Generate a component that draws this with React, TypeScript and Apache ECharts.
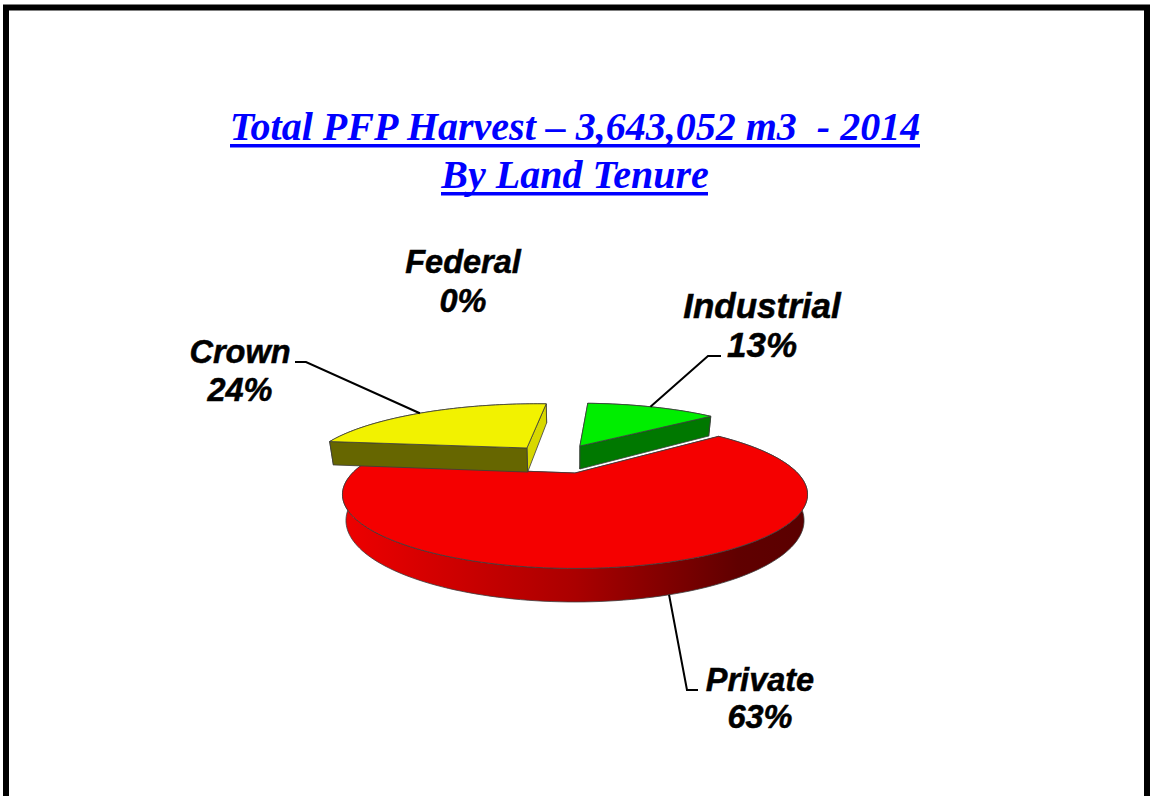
import React, { useEffect, useRef } from "react";
import * as echarts from "echarts";

const titleLines = ["Total PFP Harvest – 3,643,052 m3  - 2014", "By Land Tenure"];
const categories = ["Industrial", "Private", "Crown", "Federal"];
const shares = [13, 63, 24, 0];

// Label placement and leader elbows, in the same order as the categories.
const labelCentres = [[762, 325], [760, 698.5], [240, 371], [463, 281]];
const labelSizes = [35, 32.5, 32.5, 32.5];
const labelLineHeights = [39, 37, 38.5, 39];
const leaderElbows = [[[708, 356], [721, 356]], [[687, 690], [698, 690]], [[306, 362], [295, 362]], null];
const leaderShifts = [-0.5, -1.5, -2, 0];

// Exploded offset (in the pie's own plane), radius and depth of each slice.
const sliceOffsets = [[0.025, -0.451], [0, 0], [-0.242, -0.414], [0, 0]];
const sliceRadii = [1.02, 1, 1.04, 1];
const sliceDepths = [26, 23.8, 27, 0];

const topFills = ["#00EE00", "#F50000", "#F2F200", "#888888"];
const frontFills = ["#007800", "#AA0000", "#666600", "#444444"];
const backFills = ["#00A000", "#800000", "#D8D800", "#666666"];

// Perspective model of the tilted pie.
const APEX = [575, 473];
const SCALE_X = 222.5;
const SCALE_Y = 67.7;
const TILT = -0.2905;
const ROTATION = 3.2;

const toRad = (d: number) => (d * Math.PI) / 180;
const dir = (deg: number) => [Math.sin(toRad(deg)), -Math.cos(toRad(deg))];

function project(u: number, v: number, depth: number) {
  const w = 1 + TILT * v;
  const x = (SCALE_X * u) / w;
  const y = (SCALE_Y * v) / w;
  return depth > 0 ? [APEX[0] + x * 0.985, APEX[1] + y + depth / w] : [APEX[0] + x, APEX[1] + y];
}

function sliceAngles(index: number, value: number) {
  const total = shares.reduce((a, b) => a + b, 0);
  const before = shares.slice(0, index).reduce((a, b) => a + b, 0);
  const start = ROTATION + (before / total) * 360;
  return [start, start + (value / total) * 360];
}

function renderItem(params: any, api: any) {
  const i = params.dataIndex;
  const value = api.value(1) as number;
  const [a0, a1] = sliceAngles(i, value);
  const mid = (a0 + a1) / 2;
  const children: any[] = [];
  const origin = sliceOffsets[i];
  const radius = sliceRadii[i];
  const depth = sliceDepths[i];

  if (value > 0) {
    const arc: number[][] = [];
    const n = Math.max(8, Math.ceil((a1 - a0) / 1.5));
    for (let s = 0; s <= n; s++) {
      const p = dir(a0 + ((a1 - a0) * s) / n);
      arc.push([origin[0] + radius * p[0], origin[1] + radius * p[1]]);
    }
    const upper = arc.map((p) => project(p[0], p[1], 0));
    const lower = arc.map((p) => project(p[0], p[1], depth));
    const apexUp = project(origin[0], origin[1], 0);
    const apexDown = project(origin[0], origin[1], depth);
    const edge = { stroke: "#3c3c3c", lineWidth: 0.8 };

    const sideFill =
      i === 1
        ? new echarts.graphic.LinearGradient(0, 0, 1, 0, [
            { offset: 0, color: "#EE0000" },
            { offset: 0.5, color: "#AA0000" },
            { offset: 0.85, color: "#600000" },
            { offset: 1, color: "#5A0000" },
          ])
        : frontFills[i];

    children.push({
      type: "polygon",
      shape: { points: [...upper, ...lower.slice().reverse()] },
      style: { fill: sideFill, ...edge },
    });
    // The wall that faces the viewer is drawn last, so it sits above the other one.
    const wallStart = [apexUp, upper[0], lower[0], apexDown];
    const wallEnd = [apexUp, upper[n], lower[n], apexDown];
    children.push({
      type: "polygon",
      shape: { points: i === 2 ? wallEnd : wallStart },
      style: { fill: i === 0 ? frontFills[i] : backFills[i], ...edge },
    });
    children.push({
      type: "polygon",
      shape: { points: i === 2 ? wallStart : wallEnd },
      style: { fill: frontFills[i], ...edge },
    });
    children.push({
      type: "polygon",
      shape: { points: [apexUp, ...upper] },
      style: { fill: topFills[i], ...edge },
    });

    const elbow = leaderElbows[i];
    if (elbow) {
      const d = dir(mid + leaderShifts[i]);
      const a = [origin[0] + radius * d[0], origin[1] + radius * d[1]];
      const start = project(a[0], a[1], i === 1 ? depth : 0);
      children.push({
        type: "polyline",
        shape: { points: [start, ...elbow] },
        style: { stroke: "#000000", lineWidth: 2, fill: null },
      });
    }
  }

  children.push({
    type: "text",
    x: labelCentres[i][0],
    y: labelCentres[i][1],
    style: {
      text: `${categories[i]}\n${value}%`,
      fontFamily: "Liberation Sans",
      fontStyle: "italic",
      fontWeight: "bold",
      fontSize: labelSizes[i],
      lineHeight: labelLineHeights[i],
      fill: "#000000",
      stroke: "#000000",
      lineWidth: 0.5,
      textAlign: "center",
      textVerticalAlign: "middle",
      verticalAlign: "middle",
    },
  });

  return { type: "group", children };
}

export default function App() {
  const ref = useRef<HTMLDivElement>(null);
  useEffect(() => {
    document.body.style.margin = "0";
    document.body.style.overflow = "hidden";
    const chart = echarts.init(ref.current!, null, { renderer: "svg" });
    chart.setOption({
      animation: false,
      backgroundColor: "#ffffff",
      title: {
        text: titleLines.join("\n"),
        left: 575,
        top: 102,
        textAlign: "center",
        padding: 0,
        textStyle: {
          fontFamily: "Liberation Serif",
          fontStyle: "italic",
          fontWeight: "bold",
          fontSize: 40,
          lineHeight: 48,
          color: "#0000FF",
        },
      },
      graphic: [
        { type: "rect", shape: { x: 6, y: 7.5, width: 1141, height: 900 }, style: { fill: "none", stroke: "#000000", lineWidth: 6 } },
        { type: "line", shape: { x1: 230, y1: 145.7, x2: 920, y2: 145.7 }, style: { stroke: "#0000FF", lineWidth: 3.6 } },
        { type: "line", shape: { x1: 441, y1: 193.7, x2: 708, y2: 193.7 }, style: { stroke: "#0000FF", lineWidth: 3.6 } },
      ],
      series: [
        {
          type: "custom",
          coordinateSystem: "none",
          silent: true,
          renderItem,
          data: shares.map((s, i) => [i, s]),
        },
      ],
    });
    return () => chart.dispose();
  }, []);
  return <div ref={ref} style={{ position: "absolute", left: 0, top: 0, width: 1150, height: 796 }} />;
}
